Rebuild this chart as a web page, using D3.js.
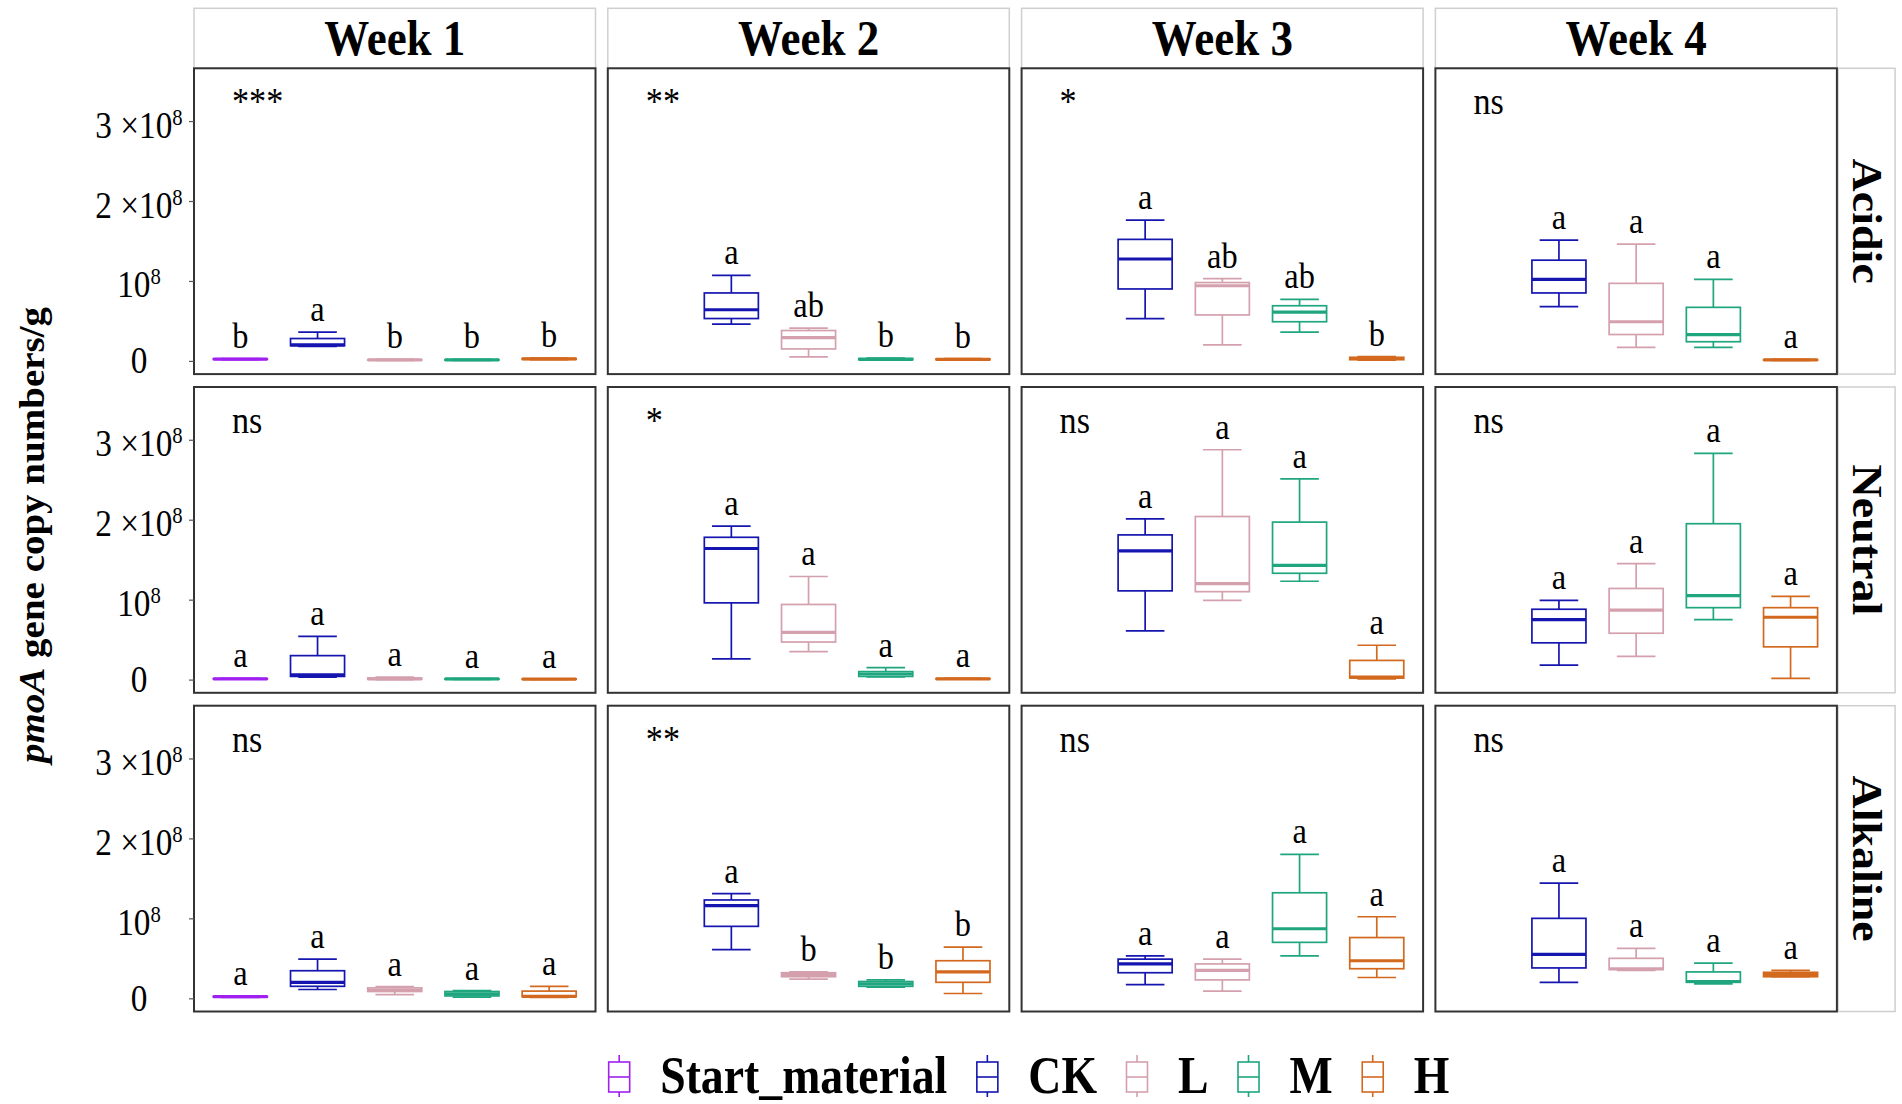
<!DOCTYPE html>
<html><head><meta charset="utf-8">
<script src="https://cdn.jsdelivr.net/npm/d3@7/dist/d3.min.js"></script>
<style>body{margin:0;background:#fff}svg{display:block}</style>
</head><body>
<svg id="chart" width="1902" height="1104"></svg>
<script>
// ---------- data ----------
const weeks = ["Week 1", "Week 2", "Week 3", "Week 4"];
const soils = ["Acidic", "Neutral", "Alkaline"];
const groups = ["Start_material", "CK", "L", "M", "H"];
const groupColors = ["#A020F0", "#1515B0", "#D4A0AE", "#1FA67F", "#D2691E"];
const yTickValues = [0, 1, 2, 3];                 // in units of 10^8
const yTickLabels = ["0", "10^8", "2 \u00D710^8", "3 \u00D710^8"];
const yTitleItalic = "pmoA";
const yTitleRest = " gene copy numbers/g";

const acidicSig = ["***", "**", "*", "ns"];
const neutralSig = ["ns", "*", "ns", "ns"];
const alkalineSig = ["ns", "**", "ns", "ns"];

// box stats per week, per group: [lower whisker, Q1, median, Q3, upper whisker] (x10^8); null = absent
const acidicStats = [
  [[0.015,0.02,0.022,0.025,0.03],[0.18,0.19,0.20,0.28,0.36],[0.005,0.01,0.012,0.015,0.02],[0.005,0.01,0.012,0.015,0.02],[0.015,0.02,0.025,0.03,0.035]],
  [null,[0.46,0.53,0.64,0.85,1.07],[0.05,0.15,0.29,0.38,0.41],[0.01,0.015,0.02,0.03,0.035],[0.01,0.015,0.02,0.025,0.03]],
  [null,[0.53,0.90,1.275,1.52,1.76],[0.20,0.575,0.94,0.98,1.03],[0.36,0.49,0.61,0.69,0.77],[0.01,0.015,0.03,0.045,0.055]],
  [null,[0.68,0.85,1.02,1.26,1.51],[0.17,0.33,0.49,0.97,1.46],[0.17,0.24,0.33,0.67,1.02],[0.005,0.01,0.012,0.015,0.02]]
];
const neutralStats = [
  [[0.005,0.008,0.01,0.012,0.015],[0.03,0.04,0.06,0.30,0.54],[0.0,0.005,0.01,0.02,0.03],[0.003,0.005,0.008,0.01,0.012],[0.003,0.005,0.007,0.009,0.011]],
  [null,[0.26,0.96,1.64,1.78,1.92],[0.35,0.47,0.59,0.94,1.29],[0.035,0.04,0.07,0.10,0.15],[0.005,0.008,0.01,0.012,0.015]],
  [null,[0.61,1.11,1.61,1.81,2.01],[0.99,1.10,1.20,2.04,2.875],[1.23,1.33,1.43,1.97,2.51],[0.01,0.02,0.03,0.24,0.43]],
  [null,[0.18,0.46,0.75,0.88,0.99],[0.29,0.58,0.87,1.14,1.45],[0.75,0.90,1.05,1.95,2.83],[0.015,0.41,0.78,0.90,1.04]]
];
const alkalineStats = [
  [[0.01,0.015,0.02,0.025,0.03],[0.11,0.15,0.20,0.345,0.49],[0.045,0.085,0.10,0.13,0.145],[0.015,0.03,0.055,0.085,0.095],[0.012,0.02,0.025,0.09,0.15]],
  [null,[0.61,0.90,1.16,1.23,1.31],[0.24,0.27,0.30,0.32,0.33],[0.14,0.15,0.18,0.21,0.23],[0.06,0.20,0.33,0.47,0.64]],
  [null,[0.17,0.32,0.43,0.49,0.53],[0.09,0.23,0.35,0.43,0.49],[0.53,0.70,0.87,1.32,1.80],[0.26,0.37,0.47,0.76,1.02]],
  [null,[0.20,0.38,0.55,1.0,1.44],[0.35,0.36,0.37,0.50,0.625],[0.18,0.20,0.21,0.33,0.44],[0.27,0.27,0.295,0.325,0.35]]
];

const acidicLetters = [["b","a","b","b","b"],[null,"a","ab","b","b"],[null,"a","ab","ab","b"],[null,"a","a","a","a"]];
const neutralLetters = [["a","a","a","a","a"],[null,"a","a","a","a"],[null,"a","a","a","a"],[null,"a","a","a","a"]];
const alkalineLetters = [["a","a","a","a","a"],[null,"a","b","b","b"],[null,"a","a","a","a"],[null,"a","a","a","a"]];

const statsBySoil = [acidicStats, neutralStats, alkalineStats];
const lettersBySoil = [acidicLetters, neutralLetters, alkalineLetters];
const sigBySoil = [acidicSig, neutralSig, alkalineSig];

// ---------- layout ----------
const FONT = "'Liberation Serif','Times New Roman',Times,serif";
const SX = 0.9; // horizontal condensing of glyphs seen in the reference
const Lp = { left: 194, top: 68.3, pw: 401.5, ph: 305.8, gx: 12.3, gy: 12.9, stripTop: 8.3, stripW: 57 };
const colX = i => Lp.left + i * (Lp.pw + Lp.gx);
const rowY = j => Lp.top + j * (Lp.ph + Lp.gy);

const svg = d3.select("#chart");
svg.append("rect").attr("width", 1902).attr("height", 1104).attr("fill", "#fff");

const x = d3.scalePoint().domain(groups).range([0, Lp.pw]).padding(0.6);
const y = d3.scaleLinear().domain([-0.165, 3.66]).range([Lp.ph, 0]);
const color = d3.scaleOrdinal().domain(groups).range(groupColors);
const boxW = x.step() * 0.70;
const capW = x.step() * 0.50;

function addText(parent, px, py, str, o) {
  const t = parent.append("text")
    .attr("transform", `translate(${px},${py}) scale(${o.sx ?? SX},1)`)
    .attr("text-anchor", o.anchor || "start")
    .style("font-family", FONT)
    .style("font-size", o.size + "px")
    .style("font-weight", o.weight || "normal")
    .attr("fill", "#000")
    .text(str);
  return t;
}

// top strips
weeks.forEach((w, i) => {
  svg.append("rect").attr("x", colX(i)).attr("y", Lp.stripTop)
    .attr("width", Lp.pw).attr("height", Lp.top - Lp.stripTop)
    .attr("fill", "#fff").attr("stroke", "#cfcfcf").attr("stroke-width", 1.5);
  addText(svg, colX(i) + Lp.pw / 2, 54.8, w, { size: 50, weight: "bold", anchor: "middle" });
});

// right strips
soils.forEach((s, j) => {
  const sx0 = colX(3) + Lp.pw + 1.2;
  svg.append("rect").attr("x", sx0).attr("y", rowY(j))
    .attr("width", Lp.stripW).attr("height", Lp.ph)
    .attr("fill", "#fff").attr("stroke", "#cfcfcf").attr("stroke-width", 1.5);
  svg.append("text")
    .attr("transform", `translate(${sx0 + Lp.stripW / 2},${rowY(j) + Lp.ph / 2}) rotate(90) scale(1,${SX})`)
    .attr("y", 0.662 * 46 / 2)
    .attr("text-anchor", "middle")
    .style("font-family", FONT).style("font-size", "46px").style("font-weight", "bold")
    .text(s);
});

// panels
soils.forEach((s, j) => {
  weeks.forEach((w, i) => {
    const g = svg.append("g").attr("transform", `translate(${colX(i)},${rowY(j)})`);
    g.append("rect").attr("width", Lp.pw).attr("height", Lp.ph).attr("fill", "#fff");

    const stats = statsBySoil[j][i];
    const letters = lettersBySoil[j][i];
    groups.forEach((grp, k) => {
      const st = stats[k];
      if (!st) return;
      const [lo, q1, med, q3, hi] = st;
      const cx = x(grp);
      const c = color(grp);
      const b = g.append("g").attr("stroke", c).attr("fill", "none").attr("stroke-width", 1.7);
      // whiskers + caps
      b.append("line").attr("x1", cx).attr("x2", cx).attr("y1", y(hi)).attr("y2", y(lo));
      b.append("line").attr("x1", cx - capW / 2).attr("x2", cx + capW / 2).attr("y1", y(hi)).attr("y2", y(hi));
      b.append("line").attr("x1", cx - capW / 2).attr("x2", cx + capW / 2).attr("y1", y(lo)).attr("y2", y(lo));
      // box
      b.append("rect").attr("x", cx - boxW / 2).attr("width", boxW)
        .attr("y", y(q3)).attr("height", Math.max(0.01, y(q1) - y(q3))).attr("fill", "#fff");
      // median
      b.append("line").attr("x1", cx - boxW / 2).attr("x2", cx + boxW / 2)
        .attr("y1", y(med)).attr("y2", y(med)).attr("stroke-width", 3.2);
      // letter
      if (letters[k]) addText(g, cx, y(hi) - 11, letters[k], { size: 36, anchor: "middle" });
    });

    addText(g, 38, 46, sigBySoil[j][i], { size: 38 });

    g.append("rect").attr("width", Lp.pw).attr("height", Lp.ph)
      .attr("fill", "none").attr("stroke", "#333").attr("stroke-width", 2);
  });

  // y axis ticks (left column only)
  const ag = svg.append("g").attr("transform", `translate(${colX(0)},${rowY(j)})`);
  ag.call(d3.axisLeft(y).tickValues(yTickValues).tickSize(5).tickFormat(""));
  ag.select(".domain").remove();
  ag.selectAll(".tick line").attr("stroke", "#555").attr("stroke-width", 1.2);
  yTickValues.forEach((v, t) => {
    const lab = yTickLabels[t];
    const parts = lab.split("^");
    const te = ag.append("text")
      .attr("transform", `translate(-55,${y(v) + (parts.length > 1 ? 16.5 : 12.5)}) scale(${SX},1)`)
      .attr("text-anchor", "middle")
      .style("font-family", FONT).style("font-size", "37px").attr("fill", "#000");
    te.append("tspan").text(parts[0]);
    if (parts.length > 1) te.append("tspan").attr("dy", -13).style("font-size", "23px").text(parts[1]);
  });
});

// y title
const yt = svg.append("text")
  .attr("transform", `translate(44,535) rotate(-90) scale(1,${SX})`)
  .attr("text-anchor", "middle")
  .style("font-family", FONT).style("font-size", "39px").style("font-weight", "bold");
yt.append("tspan").style("font-style", "italic").text(yTitleItalic);
yt.append("tspan").text(yTitleRest);

// legend
const legSX = 0.88, legSize = 52, iconW = 21, iconToText = 41, textToIcon = 40, legCenter = 1029;
const lg = svg.append("g");
const widths = groups.map(gname => {
  const t = lg.append("text").style("font-family", FONT).style("font-size", legSize + "px")
    .style("font-weight", "bold").text(gname);
  const w = t.node().getComputedTextLength() * legSX;
  t.remove();
  return w;
});
let total = 0;
widths.forEach((w, k) => { total += iconToText + w + (k < widths.length - 1 ? textToIcon : 0); });
total += iconW / 2;
let cur = legCenter - total / 2 + iconW / 2;
groups.forEach((gname, k) => {
  const c = color(gname);
  const ig = lg.append("g").attr("stroke", c).attr("fill", "none").attr("stroke-width", 1.6);
  ig.append("line").attr("x1", cur).attr("x2", cur).attr("y1", 1055).attr("y2", 1097);
  ig.append("rect").attr("x", cur - iconW / 2).attr("y", 1062).attr("width", iconW).attr("height", 30).attr("fill", "#fff");
  ig.append("line").attr("x1", cur - iconW / 2).attr("x2", cur + iconW / 2).attr("y1", 1077).attr("y2", 1077);
  addText(lg, cur + iconToText, 1093, gname, { size: legSize, weight: "bold", sx: legSX });
  cur += iconToText + widths[k] + textToIcon;
});
</script>
</body></html>
